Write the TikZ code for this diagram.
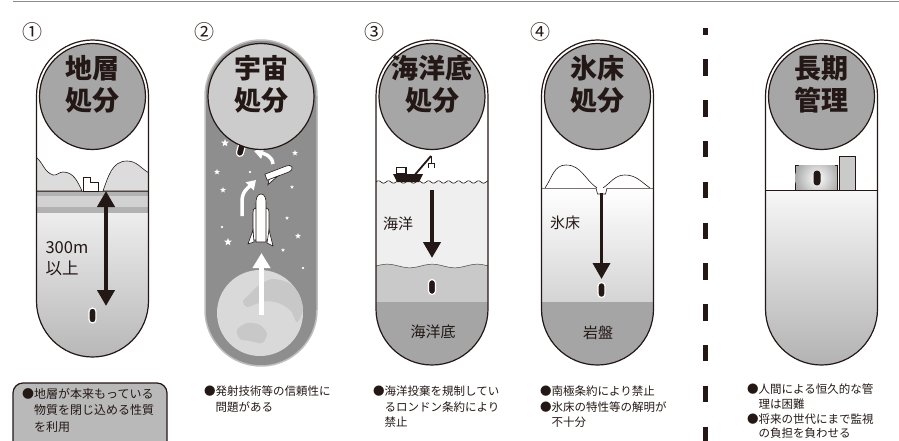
\documentclass[tikz,border=0pt]{standalone}
\usepackage{fontspec}
\setmainfont{Noto Sans CJK JP}
\usepackage{tikz}
\usetikzlibrary{calc}
\usetikzlibrary{positioning}
\usetikzlibrary{arrows.meta}
\usetikzlibrary{shapes.geometric}

\definecolor{ink}{RGB}{35,24,21}
\definecolor{discgray}{RGB}{166,166,166}
\definecolor{spacegray}{RGB}{142,142,142}
\definecolor{paledisc}{RGB}{204,204,204}
\definecolor{rimgray}{RGB}{190,190,190}
\definecolor{hillgray}{RGB}{220,220,220}
\definecolor{bandgray}{RGB}{178,178,178}
\definecolor{palegray}{RGB}{210,210,210}
\definecolor{earthgray}{RGB}{217,217,217}
\definecolor{landgray}{RGB}{200,200,200}
\definecolor{watergray}{RGB}{239,239,239}
\definecolor{seabedgray}{RGB}{201,201,201}
\definecolor{rockgray}{RGB}{165,165,165}
\definecolor{icegray}{RGB}{212,212,212}
\definecolor{bldgray}{RGB}{170,170,170}
\definecolor{towergray}{RGB}{202,202,202}
\definecolor{boxgray}{RGB}{185,185,185}
\definecolor{rulegray}{RGB}{140,140,140}

\begin{document}
\begin{tikzpicture}[x=1pt,y=1pt]
\tikzstyle{capsule}=[rounded corners=56pt]
\tikzstyle{disc}=[circle,draw=ink,line width=1.2pt,fill=discgray,minimum size=106pt,inner sep=0]
\tikzstyle{headline}=[font=\fontsize{27}{32}\selectfont\bfseries,align=center,text=ink]
\tikzstyle{pill}=[rectangle,rounded corners=3.5pt,minimum width=7pt,minimum height=15pt,inner sep=0,fill=ink,draw=white,line width=1.2pt]
\tikzstyle{circnum}=[font=\fontsize{20}{20}\selectfont,text=ink]
\tikzstyle{tag}=[font=\fontsize{15}{20}\selectfont,text=ink,align=left]
\tikzstyle{note}=[font=\fontsize{11.5}{15.2}\selectfont,align=left,text=ink,anchor=north west,inner sep=0]
\tikzstyle{sink}=[-{Triangle[width=17pt,length=16pt]},line width=4pt,ink]
\tikzstyle{twoway}=[{Triangle[width=17pt,length=16pt]}-{Triangle[width=17pt,length=16pt]},line width=4pt,ink]
\tikzstyle{rise}=[white,line width=4.5pt,-{Triangle[width=17pt,length=15pt]}]
\tikzstyle{swing}=[white,line width=3.5pt,-{Triangle[width=11pt,length=9pt]}]
\tikzstyle{twinkle}=[star,star points=5,star point ratio=2.3,fill=white,inner sep=0]
\tikzstyle{outline}=[ink,line width=1.2pt,capsule]

\useasboundingbox (0,0) rectangle (899,-441);
\clip (0,0) rectangle (899,-441);

\draw[rulegray,line width=1.5pt] (13,-1.5) -- (899,-1.5);
\draw[ink,line width=5pt,dash pattern=on 16.5pt off 24.3pt,dash phase=9.5pt] (705,-28) -- (705,-441);

% (1) geological disposal
\begin{scope}
\clip[capsule] (36.5,-40) rectangle (148.5,-357);
\fill[white] (36,-40) rectangle (149,-357);
\filldraw[fill=hillgray,draw=ink,line width=0.6pt] (36,-157) to[out=-40,in=160] (53,-175) to[out=-10,in=180] (63,-172) to[out=0,in=115] (82,-191) -- (36,-191) -- cycle;
\filldraw[fill=hillgray,draw=ink,line width=0.6pt] (103,-191) to[out=70,in=180] (127,-161) to[out=0,in=150] (149,-173) -- (149,-191) -- cycle;
\fill[bandgray] (36,-191) rectangle (149,-196);
\fill[palegray] (36,-196) rectangle (149,-207);
\fill[bandgray] (36,-207) rectangle (149,-213);
\shade[top color=black!7,bottom color=black!28] (36,-213) rectangle (149,-357);
\draw[ink!80,line width=0.6pt] (36,-191) -- (149,-191);
\end{scope}
\filldraw[fill=white,draw=ink,line width=0.8pt] (83,-191) -- (83,-177) -- (90,-177) -- (90,-182) -- (98,-182) -- (98,-191) -- cycle;
\coordinate (top1) at (106,-191);
\coordinate (bot1) at (106,-306);
\draw[twoway] (top1) -- (bot1);
\node[pill] (pill1) at (92.5,-315.5) {};
\node[tag,anchor=west,font=\fontsize{16.5}{21}\selectfont] (depth1) at (42,-259) {300m\\以上};
\draw[outline] (36.5,-40) rectangle (148.5,-357);
\node[disc] (disc1) at (92.5,-96.5) {};
\node[headline] (title1) at (92.5,-84.5) {地層\\処分};
\node[circnum] (n1) at (33,-32) {①};
\draw[ink,line width=1.2pt,fill=boxgray,rounded corners=10pt] (13,-383) rectangle (167,-460);
\node[note,font=\fontsize{12}{16.5}\selectfont] (note1) at (22,-388) {●地層が本来もっている\\\hspace*{1em}物質を閉じ込める性質\\\hspace*{1em}を利用};

% (2) space disposal
\begin{scope}
\clip[capsule] (205,-40) rectangle (317,-366);
\fill[spacegray] (205,-40) rectangle (317,-366);
\fill[earthgray] (260,-313) circle (43);
\fill[landgray] plot[smooth cycle] coordinates {(258,-286) (272,-279) (289,-283) (299,-294) (303,-310) (297,-322) (291,-311) (281,-304) (268,-301) (256,-304) (247,-307) (243,-301) (251,-293)};
\fill[landgray] plot[smooth cycle] coordinates {(237,-330) (247,-323) (260,-325) (267,-334) (262,-343) (250,-341) (240,-339)};
\end{scope}
\draw[rimgray,line width=1.5pt,capsule] (205,-40) rectangle (317,-366);
\foreach \sx/\sy/\sz in {225/143/8,295/153/6,217/172/6,250/172/3,223/190/6,292/187/4,287/218/4,222/227/3,228/242/8,298/236/6,283/250/4,303/268/3}
  \node[twinkle,minimum size=\sz pt] at (\sx,-\sy) {};
\coordinate (earth2) at (261.5,-315);
\coordinate (lift2) at (261.5,-253);
\draw[rise] (earth2) -- (lift2);
% rocket
\begin{scope}[ink,line width=0.6pt]
\filldraw[fill=white] (253,-240) -- (253,-213) to[out=90,in=180] (255.5,-208) to[out=0,in=90] (258,-213) -- (258,-240) -- cycle;
\filldraw[fill=white] (264,-240) -- (264,-213) to[out=90,in=180] (266.5,-208) to[out=0,in=90] (269,-213) -- (269,-240) -- cycle;
\filldraw[fill=white] (256,-242) -- (256,-203) to[out=90,in=180] (261,-194) to[out=0,in=90] (266,-203) -- (266,-242) -- cycle;
\filldraw[fill=white] (253,-230) -- (248,-244) -- (254,-242) -- cycle;
\filldraw[fill=white] (269,-230) -- (273,-246) -- (267,-243) -- cycle;
\end{scope}
\draw[swing] (242,-216) -- (242,-201) to[out=90,in=225] (256,-180);
% shuttle
\begin{scope}[shift={(279,-172)},rotate=21]
\filldraw[fill=white,draw=ink,line width=0.6pt] (-14,-3.5) -- (-14,3) -- (9,3) to[out=0,in=90] (14,-0.2) to[out=-90,in=0] (9,-3.5) -- cycle;
\filldraw[fill=white,draw=ink,line width=0.6pt] (-12,-3.5) -- (-15,-8) -- (-3,-3.5) -- cycle;
\end{scope}
\draw[swing] (273,-164) to[out=95,in=-15] (254,-151);
\node[pill,rotate=-15] (pill2) at (241,-149) {};
\node[disc,fill=paledisc] (disc2) at (261,-96.5) {};
\node[headline] (title2) at (261,-84.5) {宇宙\\処分};
\node[circnum] (n2) at (204,-32) {②};
\node[note] (note2) at (204,-386) {●発射技術等の信頼性に\\\hspace*{1em}問題がある};

% (3) seabed disposal
\begin{scope}
\clip[capsule] (376,-40) rectangle (488,-365);
\fill[white] (376,-40) rectangle (488,-365);
\fill[watergray] (376,-182) rectangle (488,-275);
\fill[seabedgray] plot[domain=376:488,samples=60] (\x,{-266+1.8*sin(8*(\x-376))}) -- (488,-302) -- (376,-302) -- cycle;
\draw[ink!80,line width=0.5pt] plot[domain=376:488,samples=60] (\x,{-266+1.8*sin(8*(\x-376))});
\fill[rockgray] (376,-302) rectangle (488,-365);
\draw[ink,line width=0.6pt] plot[domain=376:488,samples=150] (\x,{-182+1.2*sin(36*(\x-376))});
\end{scope}
\fill[ink] (393,-174) -- (423,-174) -- (419,-182) -- (397,-182) -- cycle;
\draw[ink,fill=white,line width=1.2pt] (396.5,-167.5) rectangle (406,-174);
\draw[ink,line width=1.8pt] (413,-177) -- (431,-156);
\draw[ink,line width=1pt] (431,-156) -- (431,-163);
\draw[ink,line width=1pt] (428,-168) -- (428,-163) -- (434,-163) -- (434,-168);
\coordinate (sea3) at (432,-190);
\coordinate (floor3) at (432,-258);
\draw[sink,line width=4.5pt] (sea3) -- (floor3);
\node[tag] (ocean3) at (398,-224) {海洋};
\node[pill] (pill3) at (432,-287) {};
\node[tag] (bed3) at (433,-332) {海洋底};
\draw[outline] (376,-40) rectangle (488,-365);
\node[disc] (disc3) at (432,-96.5) {};
\node[headline] (title3) at (432,-84.5) {海洋底\\処分};
\node[circnum] (n3) at (374,-32) {③};
\node[note] (note3) at (373,-386) {●海洋投棄を規制してい\\\hspace*{1em}るロンドン条約により\\\hspace*{1em}禁止};

% (4) ice sheet disposal
\begin{scope}
\clip[capsule] (541.5,-40) rectangle (653.5,-365);
\fill[white] (541,-40) rectangle (654,-365);
\shade[top color=white,bottom color=icegray] (541,-188) rectangle (654,-302);
\fill[rockgray] (541,-302) rectangle (654,-365);
\end{scope}
\draw[ink,line width=0.6pt] (545,-188) to[out=55,in=180] (566,-165) to[out=0,in=145] (597,-188);
\draw[ink,line width=0.6pt] (603,-188) to[out=35,in=180] (625,-175) to[out=0,in=145] (650,-188);
\draw[ink!60,line width=0.8pt] (541.5,-188) -- (653.5,-188);
\filldraw[fill=white,draw=ink,line width=0.6pt] (596,-188) -- (597.5,-194) -- (605.5,-194) -- (607,-188);
\coordinate (ice4) at (601.5,-193);
\coordinate (rock4) at (601.5,-279);
\draw[sink,line width=3.5pt] (ice4) -- (rock4);
\node[tag] (sheet4) at (565,-223) {氷床};
\node[pill] (pill4) at (601.5,-290) {};
\node[tag] (bed4) at (598,-333) {岩盤};
\draw[outline] (541.5,-40) rectangle (653.5,-365);
\node[disc] (disc4) at (597.5,-96.5) {};
\node[headline] (title4) at (597.5,-84.5) {氷床\\処分};
\node[circnum] (n4) at (540,-32) {④};
\node[note] (note4) at (540,-386) {●南極条約により禁止\\●氷床の特性等の解明が\\\hspace*{1em}不十分};

% long-term storage
\begin{scope}
\clip[capsule] (765.5,-40) rectangle (877.5,-365);
\fill[white] (765,-40) rectangle (878,-365);
\shade[top color=black!3,bottom color=black!30] (765,-190) rectangle (878,-365);
\end{scope}
\draw[ink,line width=0.8pt] (765.5,-190) -- (877.5,-190);
\draw[ink,fill=bldgray,line width=0.8pt] (795,-165) rectangle (837,-190);
\begin{scope}
\clip (795.4,-165.4) rectangle (836.6,-189.6);
\shade[inner color=white,outer color=bldgray] (817,-178) circle (22);
\end{scope}
\node[pill,draw=none] (pill5) at (817,-178) {};
\draw[ink,fill=towergray,line width=0.8pt] (839,-156) rectangle (855,-190);
\draw[outline] (765.5,-40) rectangle (877.5,-365);
\node[disc] (disc5) at (821.5,-96.5) {};
\node[headline] (title5) at (821.5,-84.5) {長期\\管理};
\node[note,font=\fontsize{11.5}{14.6}\selectfont] (note5) at (747,-384) {●人間による恒久的な管\\\hspace*{1em}理は困難\\●将来の世代にまで監視\\\hspace*{1em}の負担を負わせる};
\end{tikzpicture}
\end{document}
